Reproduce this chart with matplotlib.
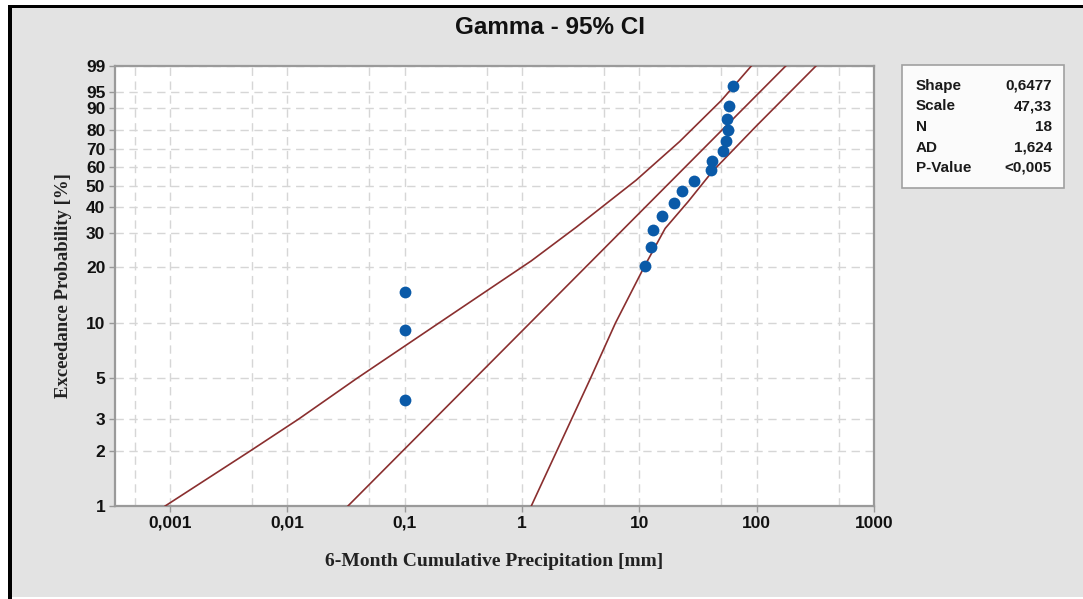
import math
import numpy as np
import matplotlib
matplotlib.use('Agg')
import matplotlib.pyplot as plt
from matplotlib.patches import Rectangle
from matplotlib.ticker import FixedLocator, NullLocator, NullFormatter

# fitted gamma parameters (from the stats box)
shape = 0.6477
scale = 47.33
stats_names = ['Shape', 'Scale', 'N', 'AD', 'P-Value']
stats_values = ['0,6477', '47,33', '18', '1,624', '<0,005']

# observed points: precipitation [mm] vs plotting position [%]
precip = [0.1, 0.1, 0.1, 11.2, 12.6, 13.2, 15.7, 19.9, 23, 29, 41, 42, 52, 55, 57, 56, 58, 63]
prob = [3.8, 9.2, 14.7, 20.1, 25.5, 31.0, 36.4, 41.8, 47.3, 52.7, 58.2, 63.6, 69.0, 74.5, 79.9, 85.3, 90.8, 96.2]

# 95% CI bounds (percent, mm)
ci_low_p = [1, 2, 3, 5, 10, 14, 21.5, 32, 53, 74, 92.5, 99]
ci_low_x = [0.00091, 0.0048, 0.0125, 0.039, 0.195, 0.43, 1.2, 2.91, 9.4, 22, 50, 90]
ci_high_p = [1, 5, 10, 20, 31.5, 42.5, 57.5, 82, 99]
ci_high_x = [1.2, 3.83, 6.25, 11.0, 16.6, 26.1, 41.8, 99, 320]

yticks = [1, 2, 3, 5, 10, 20, 30, 40, 50, 60, 70, 80, 90, 95, 99]
xticks = [0.001, 0.01, 0.1, 1, 10, 100, 1000]
xtick_labels = ['0,001', '0,01', '0,1', '1', '10', '100', '1000']
xminor = [0.0005, 0.005, 0.05, 0.5, 5, 50, 500]

_n = np.arange(400)
_lg = np.array([math.lgamma(shape + k + 1) for k in _n])


def gamma_cdf(x):
    x = np.clip(np.atleast_1d(np.asarray(x, float)), 1e-300, 60)
    lx = np.log(x)[:, None]
    terms = np.exp((shape + _n[None, :]) * lx - x[:, None] - _lg[None, :])
    return terms.sum(axis=1)


def gamma_ppf(p):
    p = np.atleast_1d(np.asarray(p, float))
    lo = np.full(p.shape, -40.0)
    hi = np.full(p.shape, 4.0)
    for _ in range(70):
        mid = (lo + hi) / 2
        below = gamma_cdf(np.exp(mid)) < p
        lo = np.where(below, mid, lo)
        hi = np.where(below, hi, mid)
    return np.exp((lo + hi) / 2)


def fwd(pct):
    pct = np.asarray(pct, float)
    p = np.clip(pct / 100.0, 1e-6, 1 - 1e-6)
    return np.log10(gamma_ppf(p.ravel())).reshape(p.shape)


def inv(v):
    v = np.asarray(v, float)
    return (100 * gamma_cdf(10 ** v.ravel())).reshape(v.shape)


W, H = 1083, 599
fig = plt.figure(figsize=(W / 100, H / 100), dpi=100, facecolor='white')
# grey panel with black frame on left/top
fig.patches.append(Rectangle((12 / W, 1 - 597 / H), 1, (597 - 8) / H, transform=fig.transFigure,
                             facecolor='#e3e3e3', edgecolor='none', zorder=-10))
fig.patches.append(Rectangle((8 / W, 0), 4 / W, 1 - 5 / H, transform=fig.transFigure,
                             facecolor='black', edgecolor='none', zorder=-9))
fig.patches.append(Rectangle((8 / W, 1 - 8 / H), 1, 3 / H, transform=fig.transFigure,
                             facecolor='black', edgecolor='none', zorder=-9))

ax = fig.add_axes([115 / W, 1 - 506 / H, (874 - 115) / W, (506 - 66) / H])
ax.set_facecolor('white')
ax.set_xscale('log')
ax.set_yscale('function', functions=(fwd, inv))
ax.set_xlim(0.00034, 1000)
ax.set_ylim(1, 99)

line_col = '#8a2f2f'
p_fit = np.array([1, 99])
ax.plot(scale * gamma_ppf(p_fit / 100.0), p_fit, color=line_col, lw=1.2, zorder=3)
ax.plot(ci_low_x, ci_low_p, color=line_col, lw=1.2, zorder=3)
ax.plot(ci_high_x, ci_high_p, color=line_col, lw=1.2, zorder=3)
ax.plot(precip, prob, 'o', color='#0a5aa8', ms=8.5, mec='none', zorder=4, clip_on=False)

ax.yaxis.set_major_locator(FixedLocator(yticks))
ax.yaxis.set_minor_locator(NullLocator())
ax.set_yticklabels([str(t) for t in yticks])
ax.xaxis.set_major_locator(FixedLocator(xticks))
ax.xaxis.set_minor_locator(FixedLocator(xminor))
ax.xaxis.set_minor_formatter(NullFormatter())
ax.set_xticklabels(xtick_labels)

grid_kw = dict(color='#d6d6d6', linestyle=(0, (6, 4)), linewidth=1)
ax.grid(True, which='major', **grid_kw)
ax.grid(True, which='minor', axis='x', **grid_kw)
ax.set_axisbelow(True)

ax.tick_params(which='major', length=4, width=1, color='#999999', pad=3)
ax.tick_params(which='minor', length=0)
for lab in ax.get_xticklabels() + ax.get_yticklabels():
    lab.set_fontfamily('Liberation Sans')
    lab.set_fontweight('bold')
    lab.set_fontsize(12.5)
    lab.set_color('#111111')
for sp in ax.spines.values():
    sp.set_color('#9a9a9a')
    sp.set_linewidth(1.6)

ax.set_xlabel('6-Month Cumulative Precipitation [mm]', fontfamily='Liberation Serif',
              fontweight='bold', fontsize=14, color='#222222', labelpad=16)
ax.set_ylabel('Exceedance Probability [%]', fontfamily='Liberation Serif',
              fontweight='bold', fontsize=13.5, color='#222222', labelpad=10)

fig.text(550 / W, 1 - 28 / H, 'Gamma - 95% CI', ha='center', va='center',
         fontfamily='Liberation Sans', fontweight='bold', fontsize=17.5, color='#111111')

# stats box
fig.patches.append(Rectangle((902 / W, 1 - 188 / H), (1064 - 902) / W, (188 - 65) / H,
                             transform=fig.transFigure, facecolor='#fbfbfb',
                             edgecolor='#a0a0a0', linewidth=1.2))
for i, (nm, val) in enumerate(zip(stats_names, stats_values)):
    yy = 1 - (86 + i * 20.5) / H
    fig.text(916 / W, yy, nm, ha='left', va='center', fontfamily='Liberation Sans',
             fontweight='bold', fontsize=11, color='#1a1a1a')
    fig.text(1052 / W, yy, val, ha='right', va='center', fontfamily='Liberation Sans',
             fontweight='bold', fontsize=11, color='#1a1a1a')

fig.savefig('out.png', dpi=100)
